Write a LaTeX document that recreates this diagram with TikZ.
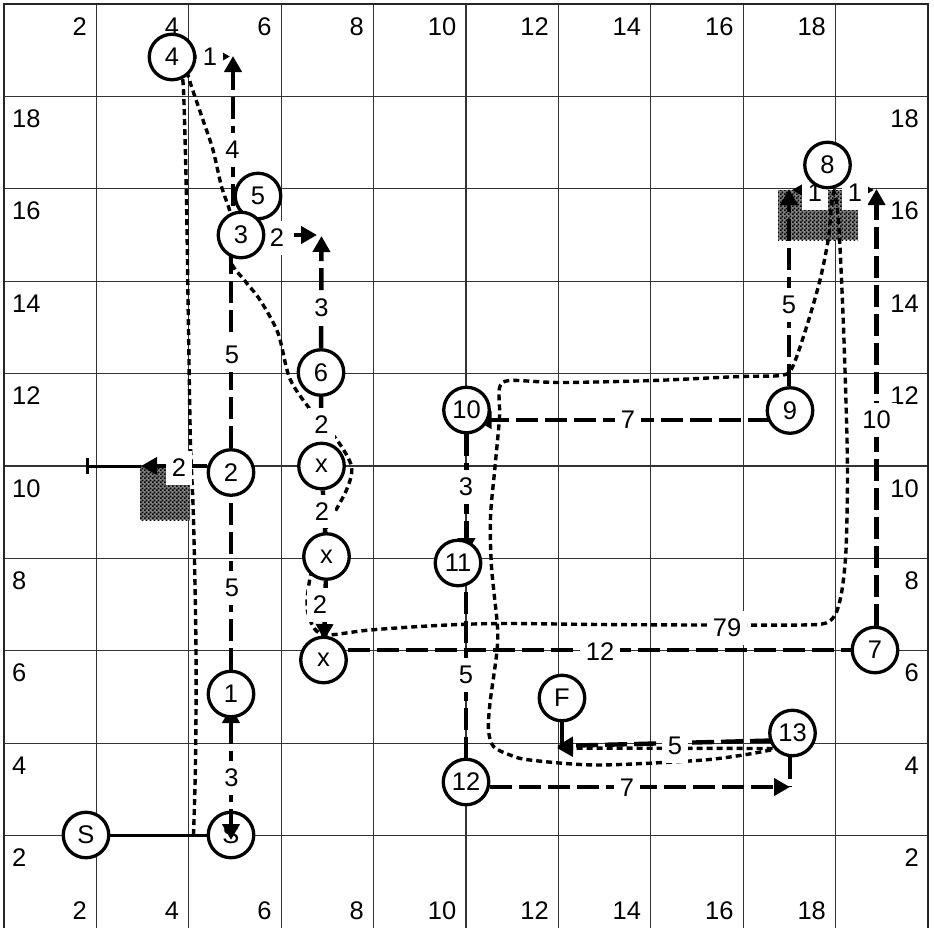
\documentclass[tikz,border=0pt]{standalone}
\usepackage{fontspec}
\setmainfont{Liberation Sans}
\usetikzlibrary{arrows.meta,patterns.meta,calc}
\pgfdeclarelayer{bg}
\pgfdeclarelayer{mid}
\pgfsetlayers{bg,mid,main}
\tikzdeclarepattern{
  name=chk,
  bounding box={(0pt,0pt) and (4pt,4pt)},
  tile size={(4pt,4pt)},
  code={
    \fill (0pt,0pt) rectangle (2pt,2pt);
    \fill (2pt,2pt) rectangle (4pt,4pt);
  }
}
\tikzset{
  vtx/.style={circle,draw,line width=3.3pt,fill=white,minimum size=45.5pt,inner sep=0pt},
  lab/.style={fill=white,inner xsep=6pt,inner ysep=8pt},
  dashedge/.style={line width=4.4pt,dash pattern=on 22pt off 7pt},
  trail/.style={line width=3.4pt,dash pattern=on 6pt off 4pt},
  gridline/.style={black!80,line width=1.3pt},
  gl/.style={inner sep=0pt},
}
\begin{document}
\begin{tikzpicture}[x=1pt,y=-1pt,
  every node/.style={font=\fontsize{25.5}{30}\selectfont},
  >={Triangle[length=16pt,width=17pt]}]
\useasboundingbox (0,0) rectangle (934,927);

% ---------- grid ----------
\begin{pgfonlayer}{bg}
\fill[white] (0,0) rectangle (934,927);
\foreach \k in {2,4,...,18} {
  \draw[gridline] ({4+46.2*\k},4) -- ({4+46.2*\k},930);
  \draw[gridline] (4,{928-46.2*\k}) -- (928,{928-46.2*\k});
  \node[gl,anchor=base east] (gT\k) at ({4+46.2*\k-9.5},35) {\k};
  \node[gl,anchor=base east] (gB\k) at ({4+46.2*\k-9.5},919) {\k};
  \node[gl,anchor=base west] (gL\k) at (12,{928-46.2*\k+31}) {\k};
  \node[gl,anchor=base east] (gR\k) at (919,{928-46.2*\k+31}) {\k};
}
\draw[black!85,line width=2.6pt] (4,934) -- (4,4) -- (928,4) -- (928,934);
% hatched obstacles
\fill[black!50] (140,465) rectangle (190,520);
\fill[pattern=chk] (140,465) rectangle (190,520);
\fill[black!50] (778,190) rectangle (858,240);
\fill[pattern=chk] (778,190) rectangle (858,240);
\end{pgfonlayer}

% ---------- nodes ----------
\node[vtx] (S) at (86,835) {S};
\node[vtx] (n1) at (231,694) {1};
\node[vtx] (n2) at (231,472.5) {2};
\node[vtx] (n5) at (258,196) {5};
\node[vtx] (n3) at (241,235) {3};
\node[vtx] (n4) at (172,57) {4};
\node[vtx] (n6) at (321,372.5) {6};
\node[vtx] (xa) at (321.5,466) {x};
\node[vtx] (xb) at (326.5,556.5) {x};
\node[vtx] (xc) at (323.5,660) {x};
\node[vtx] (n7) at (875,650) {7};
\node[vtx] (n8) at (827.5,165) {8};
\node[vtx] (n9) at (790,410.5) {9};
\node[vtx] (n10) at (466.5,410) {10};
\node[vtx] (n11) at (458,563) {11};
\node[vtx] (n12) at (466,782) {12};
\node[vtx] (n13) at (792.5,733) {13};
\node[vtx] (F) at (562,698) {F};

% arrow end points
\coordinate (T4) at (233,56);
\coordinate (T4r) at (230,56.5);
\coordinate (T3r) at (317,235);
\coordinate (T6) at (321.5,236);
\coordinate (T2l) at (141,466);
\coordinate (Tbar) at (86,466);
\coordinate (T9) at (789,189);
\coordinate (T7) at (876.5,189);
\coordinate (T8l) at (792,190);
\coordinate (T8r) at (874,190);
\coordinate (T12) at (790,787);
\coordinate (TF) at (557,746);

\begin{pgfonlayer}{mid}
\node[vtx] (Sb) at (231,835) {S};

% ---------- travelled route (dotted) ----------
\draw[trail] plot[smooth,tension=0.6] coordinates {(193.5,835) (195.5,760) (196,650) (193.5,520) (190.5,443) (188.5,330) (186.5,200) (184.5,120) (183,82) (180,62)};
\draw[trail] plot[smooth,tension=0.5] coordinates {(184,62) (191.5,86.5) (203,120) (213,150) (221.5,186.5) (230,212) (233,237) (231,262) (245,281) (260,300) (278,333) (290,379) (313,413) (337,440) (351.5,466.5) (346.5,490) (327,526.5) (318,552) (310,578) (307,607) (313,626.5) (322,634.5) (335,634.5) (370,630) (437,625.5) (500,623.5) (600,624.5) (700,625) (800,625) (826,623) (836,613) (842,590) (846,550) (847.5,480) (846.5,420) (843.5,327) (840,247) (837.5,210) (834,192) (831,210) (828.5,238) (820,280) (806.5,327) (792,368) (780,375.5) (740,376.5) (653,380.5) (560,382.5) (510,380.5) (499.5,388) (499.5,417) (495,467) (490.5,517) (491.5,567) (497.5,627) (496.5,655) (490,703) (488.5,730) (493.5,746.5) (510,755) (530,760) (597,765) (697,760.5) (740,755.5) (773,749.5) (785,746)};
\draw[trail,->] ($(n13.center)+(-20,15.5)$) -- ($(TF)+(0,2)$);

% ---------- planned edges (dashed) ----------
\draw[dashedge,<->,shorten <=13pt,shorten >=-5pt] (n1.center) -- (Sb.center);
\draw[dashedge] (n1) -- (n2);
\draw[dashedge] (n2) -- (n2 |- n3);
\draw[dashedge,->] (n4) -- (T4r);
\draw[dashedge,->] (T4 |- n3) -- (T4);
\draw[dashedge,->] (n3) -- (T3r);
\draw[dashedge,->] (n6) -- (T6);
\draw[dashedge] (n6) -- (xa);
\draw[dashedge] (xa) -- (xb);
\draw[dashedge,->,shorten >=20pt] (xb) -- (xc.center);
\draw[dashedge] (xc.east |- n7) -- (n7);
\draw[dashedge,->] (T7 |- n7.north) -- (T7);
\draw[dashedge,->] (T9 |- n9.north) -- (T9);
\draw[dashedge,->,shorten <=23pt] (n8 |- T8l) -- (T8l);
\draw[dashedge,->,shorten <=15pt] (n8 |- T8r) -- (T8r);
\draw[dashedge,->] ($(n9.center)+(-20,9.5)$) -- ($(n10.center)+(9,10)$);
\draw[dashedge,->] (n10.south) -- ($(n10.south |- n11.center)+(0,-9)$);
\draw[dashedge] (n12 |- n11) -- (n12);
\draw[dashedge,->] (n12.east |- T12) -- (T12);
\draw[dashedge] (T12 |- n13.south) -- (T12);
\draw[dashedge,->] ($(n13.center)+(-20.5,7.5)$) -- (TF);
\draw[dashedge] (F) -- (F |- TF);
\draw[dashedge,->] (n2.west |- T2l) -- (T2l);
\draw[line width=3pt,{Bar[width=16pt]}-] (Tbar) -- (T2l);
\draw[line width=3pt] (S) -- (Sb);

% ---------- labels ----------
\node[lab] (lA) at (231.5,778) {3};
\node[lab] (lB) at (232,588) {5};
\node[lab] (lC) at (232,355) {5};
\node[lab] (lD) at (232.5,150) {4};
\node[lab] (lE) at (210,57) {1};
\node[lab] (lF) at (277,238) {2};
\node[lab] (lG) at (321.5,308) {3};
\node[lab] (lH) at (321.5,425) {2};
\node[lab] (lI) at (322,511.5) {2};
\node[lab] (lJ) at (320,605) {2};
\node[lab] (lK) at (600,651.5) {12};
\node[lab] (lL) at (876.5,420) {10};
\node[lab] (lM) at (789,305) {5};
\node[lab] (lN) at (815,193) {1};
\node[lab] (lO) at (855,193) {1};
\node[lab] (lP) at (628,420) {7};
\node[lab] (lQ) at (466,487) {3};
\node[lab] (lR) at (466,675) {5};
\node[lab] (lS) at (627,788) {7};
\node[lab] (lT) at (675,746) {5};
\node[lab] (lU) at (179,468) {2};
\node[lab] (lV) at (727,628) {79};
\end{pgfonlayer}
\end{tikzpicture}
\end{document}
